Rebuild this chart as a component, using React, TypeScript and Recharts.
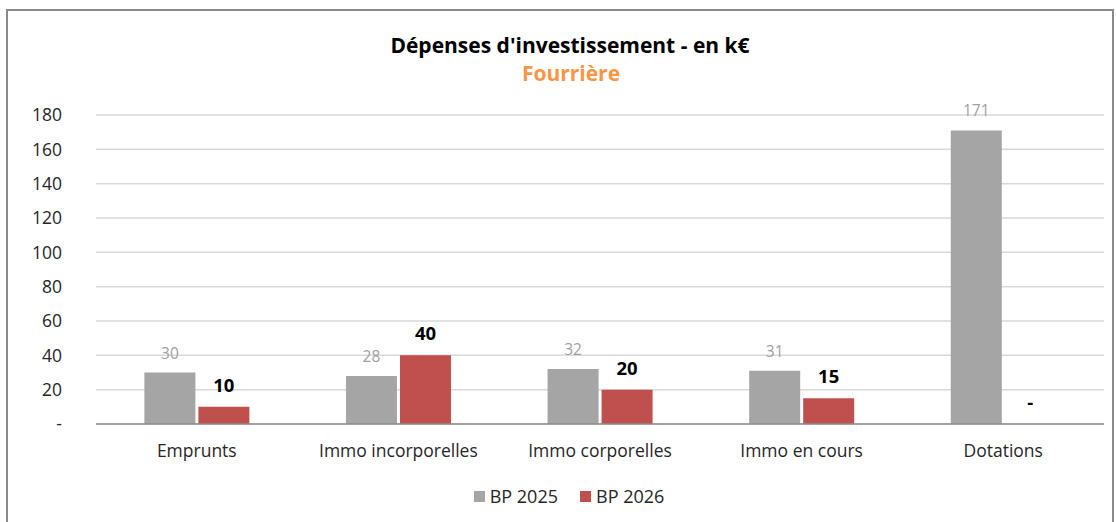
import { BarChart, Bar, XAxis, YAxis, CartesianGrid, LabelList } from "recharts";

const categories = ["Emprunts", "Immo incorporelles", "Immo corporelles", "Immo en cours", "Dotations"];
const bp2025 = [30, 28, 32, 31, 171];
const bp2026 = [10, 40, 20, 15, 0];
const yTicks = [0, 20, 40, 60, 80, 100, 120, 140, 160, 180];

const data = categories.map((name, i) => ({ name, bp2025: bp2025[i], bp2026: bp2026[i] }));

const FONT = "'Open Sans', Lato, sans-serif";
const GRAY = "#A5A5A5";
const RED = "#C0504D";

const fmt = (v: any) => (v === 0 ? "-" : v);

export default function App() {
    return (
        <div
            style={{
                position: "fixed",
                left: 6,
                top: 9,
                width: 1104,
                height: 530,
                border: "2px solid #8a8a8a",
                background: "#fff",
                fontFamily: FONT,
            }}
        >
            {/* Titles */}
            <div style={{ position: "absolute", top: 20, left: 10, width: "100%", textAlign: "center", fontWeight: 700, fontSize: 21, color: "#000" }}>
                Dépenses d'investissement - en k€
            </div>
            <div style={{ position: "absolute", top: 48, left: 11, width: "100%", textAlign: "center", fontWeight: 700, fontSize: 21, color: "#F79646" }}>
                Fourrière
            </div>

            <BarChart
                width={1104}
                height={520}
                data={data}
                margin={{ top: 104, right: 8, left: 0, bottom: 67 }}
                barGap={3}
                barCategoryGap="24%"
            >
                <CartesianGrid vertical={false} stroke="#D9D9D9" strokeWidth={1.5} />
                <XAxis
                    dataKey="name"
                    height={40}
                    tickLine={false}
                    axisLine={{ stroke: "#8C8C8C", strokeWidth: 1.5 }}
                    tickMargin={15}
                    tick={{ fill: "#262626", fontSize: 17.5, fontFamily: FONT }}
                    interval={0}
                />
                <YAxis
                    width={88}
                    domain={[0, 180]}
                    ticks={yTicks}
                    tickLine={false}
                    axisLine={false}
                    tickFormatter={fmt}
                    tick={{ fill: "#262626", fontSize: 17.5, fontFamily: FONT, dx: -26 }}
                />
                <Bar dataKey="bp2025" fill={GRAY} isAnimationActive={false}>
                    <LabelList dataKey="bp2025" position="top" offset={14} formatter={fmt} fill="#A0A0A0" fontSize={15.5} fontFamily={FONT} />
                </Bar>
                <Bar
                    dataKey="bp2026"
                    fill={RED}
                    isAnimationActive={false}
                    minPointSize={(v: any) => (v === 0 ? 0.01 : 0)}
                >
                    <LabelList dataKey="bp2026" position="top" offset={15} formatter={fmt} fill="#000" fontSize={18.5} fontWeight={700} fontFamily={FONT} />
                </Bar>
            </BarChart>

            {/* Legend */}
            <div
                style={{
                    position: "absolute",
                    top: 473,
                    left: 0,
                    width: "100%",
                    display: "flex",
                    justifyContent: "center",
                    gap: 22,
                    fontSize: 18,
                    color: "#262626",
                    paddingLeft: 18,
                    boxSizing: "border-box",
                }}
            >
                {[
                    { label: "BP 2025", color: GRAY },
                    { label: "BP 2026", color: RED },
                ].map((item) => (
                    <div key={item.label} style={{ display: "flex", alignItems: "center", gap: 5 }}>
                        <span style={{ display: "inline-block", width: 11, height: 11, background: item.color }} />
                        <span>{item.label}</span>
                    </div>
                ))}
            </div>
        </div>
    );
}
